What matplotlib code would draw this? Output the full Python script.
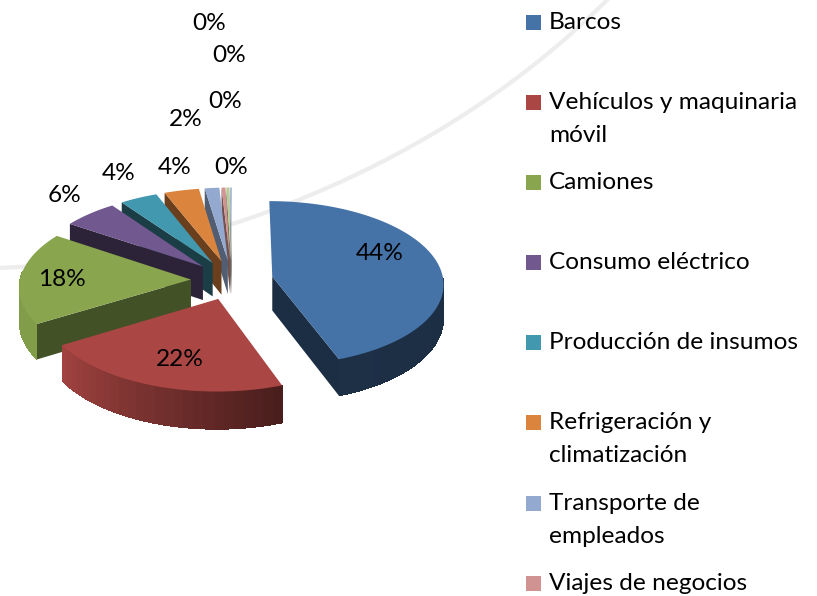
import numpy as np
import matplotlib
matplotlib.use("Agg")
import matplotlib.pyplot as plt
from matplotlib.path import Path
from matplotlib.patches import PathPatch, Rectangle

plt.rcParams['font.family'] = ['Lato', 'DejaVu Sans']

# shares (the last ones are the tiny slices labelled 0%)
values = [44.4, 21.9, 18.1, 5.7, 3.9, 3.6, 1.5, 0.4, 0.3, 0.1, 0.1]
colors = ["#4572A7", "#AA4643", "#89A54E", "#71588F", "#4198AF", "#DB843D",
          "#93A9CF", "#D19392", "#B9CD96", "#A99BBD", "#91C3D5"]
cut_shade = [0.40, 0.45, 0.49, 0.40, 0.40, 0.48, 0.55, 0.55, 0.55, 0.55, 0.55]

legend_labels = ["Barcos", "Vehículos y maquinaria\nmóvil", "Camiones",
                 "Consumo eléctrico", "Producción de insumos",
                 "Refrigeración y\nclimatización", "Transporte de\nempleados",
                 "Viajes de negocios"]
legend_y = [22, 102, 182, 262, 342, 422, 503, 583]

# where the percent labels sit, in image pixels
label_pos = [(380, 254), (180, 359), (62, 280), (65, 195), (119, 173), (175, 167),
             (186, 119), (231, 167), (225, 101), (229, 56), (209, 23)]

# pie geometry
cx, cy = 232, 280
rx, ry = 171, 82
persp = 0.08
depth = 34
explode = 0.24
text_size = 17.6


def project(u, v, drop=0.0):
    s = 1 / (1 + persp * v)
    return cx + rx * u * s, cy - ry * v * s + drop * s


def arc_shade(deg):
    return np.interp(deg, [90, 158, 237, 300], [0.40, 0.42, 0.95, 0.95])


def darker(color, k):
    return tuple(c * k for c in matplotlib.colors.to_rgb(color))


fig = plt.figure(figsize=(8.17, 5.96), dpi=100)
ax = fig.add_axes([0, 0, 1, 1])
ax.set_xlim(0, 817)
ax.set_ylim(596, 0)
ax.axis("off")

# faint arc of the page background behind the chart
swoosh = Path([(-5, 268), (150, 265), (420, 190), (612, -5)],
              [Path.MOVETO, Path.CURVE4, Path.CURVE4, Path.CURVE4])
ax.add_patch(PathPatch(swoosh, fill=False, edgecolor="#ededed", lw=3, zorder=0))

edges = np.cumsum([0] + values) / sum(values) * 360
slices = []
for i in range(len(values)):
    a0, a1 = edges[i], edges[i + 1]
    mid = np.radians((a0 + a1) / 2)
    slices.append((np.sin(mid) * explode, np.cos(mid) * explode, a0, a1, colors[i], cut_shade[i]))

# back slices first so the nearer ones cover them
slices.sort(key=lambda s: project(s[0], s[1])[1])

z = 1
for ox, oy, a0, a1, color, shade in slices:
    t = np.radians(np.linspace(a0, a1, max(int(a1 - a0) * 2, 3)))
    deg = np.degrees(t)
    u = ox + np.sin(t)
    v = oy + np.cos(t)

    # cut faces that look at the viewer
    for ang, visible in ((a0, np.sin(np.radians(a0)) < -0.01), (a1, np.sin(np.radians(a1)) > 0.01)):
        if visible:
            eu = ox + np.sin(np.radians(ang))
            ev = oy + np.cos(np.radians(ang))
            corners = [project(ox, oy), project(eu, ev), project(eu, ev, depth), project(ox, oy, depth)]
            ax.fill(*zip(*corners), color=darker(color, shade), lw=0, zorder=z)
            z += 1

    # outer wall, drawn in strips of about 3 degrees for the shading
    for j in range(0, len(t) - 1, 6):
        if deg[j] > 88 and deg[j] < 275:
            k = min(j + 7, len(t) - 1)
            top = project(u[j:k + 1], v[j:k + 1])
            bottom = project(u[j:k + 1][::-1], v[j:k + 1][::-1], depth)
            ax.fill(np.r_[top[0], bottom[0]], np.r_[top[1], bottom[1]],
                    color=darker(color, arc_shade(deg[j])), lw=0, antialiased=False, zorder=z)
    z += 1

    # top face
    xs, ys = project(np.r_[ox, u], np.r_[oy, v])
    ax.fill(xs, ys, color=color, lw=0, zorder=z)
    z += 1

for val, (x, y) in zip(values, label_pos):
    ax.text(x, y, f"{round(val)}%", ha="center", va="center", fontsize=text_size,
            color="black", zorder=z)

for name, y, color in zip(legend_labels, legend_y, colors):
    ax.add_patch(Rectangle((526, y - 7.5), 15, 15, color=color, lw=0, zorder=z))
    ax.text(549, y - 10, name, ha="left", va="top", fontsize=text_size, color="black",
            linespacing=1.68, zorder=z)

fig.savefig("out.png", dpi=100)
